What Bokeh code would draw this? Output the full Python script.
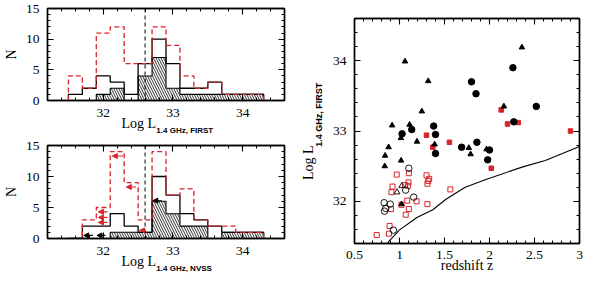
import json
from bokeh.plotting import figure
from bokeh.layouts import row, column
from bokeh.models import (Arrow, NormalHead, LinearAxis, ColumnDataSource, Span,
                          SingleIntervalTicker, FixedTicker, PrintfTickFormatter,
                          CustomJSTickFormatter)
from bokeh.embed import file_html
from bokeh.resources import INLINE

# ---------------- data ----------------
edges = [31.5, 31.7, 31.9, 32.1, 32.3, 32.5, 32.7, 32.9, 33.1, 33.3, 33.5, 33.7, 33.9, 34.1, 34.3]
red_first = [4, 2, 11, 12, 6, 6, 12, 9, 4, 2, 3, 1, 1, 1]
black_first = [1, 2, 4, 3, 1, 6, 10, 6, 2, 2, 3, 1, 1, 1]
hatch_first = [0, 0, 1, 2, 0, 4, 7, 2, 1, 1, 1, 1, 1, 1]

red_nvss = [0, 3, 5, 14, 9, 3, 14, 7, 8, 3, 2, 2, 1, 1]
black_nvss = [0, 2, 2, 4, 2, 1, 10, 7, 4, 3, 2, 1, 1, 1]
hatch_nvss = [0, 0, 0, 1, 1, 1, 6, 4, 2, 2, 0, 1, 1, 1]

split_L = 32.6

# upper-limit arrows (NVSS panel): start x, end x, level
red_arr_xs = [32.06, 32.06, 32.06, 32.29, 32.47, 32.60]
red_arr_xe = [31.93, 31.93, 31.93, 32.13, 32.33, 32.52]
red_arr_y = [4.3, 3.4, 2.6, 13.3, 8.3, 1.3]
blk_arr_xs = [31.85, 32.03, 32.84]
blk_arr_xe = [31.72, 31.91, 32.71]
blk_arr_y = [0.5, 0.5, 6.1]

# scatter: redshift z vs Log L(1.4 GHz, FIRST)
fc_z = [1.136, 1.029, 1.38, 1.40, 1.80, 1.85, 2.26, 2.52, 2.27, 1.40, 1.69, 1.86, 2.00, 1.98]
fc_L = [33.02, 32.96, 33.07, 32.95, 33.70, 33.53, 33.90, 33.35, 33.13, 32.68, 32.77, 32.84, 32.73, 32.59]

ft_z = [1.061, 1.319, 1.248, 0.918, 1.112, 2.36, 2.16, 1.015, 1.194, 1.39, 1.77, 1.79, 1.967,
        0.879, 0.84, 0.836, 1.018, 1.022]
ft_L = [33.99, 33.71, 33.28, 33.08, 33.09, 34.19, 33.35, 32.90, 32.85, 32.81, 32.76, 32.67, 32.74,
        32.77, 32.65, 32.50, 32.58, 31.96]

fs_z = [1.30, 2.13, 2.20, 2.32, 2.90, 1.37, 1.555, 2.02]
fs_L = [32.94, 33.30, 33.10, 33.12, 33.00, 32.77, 32.84, 32.47]

os_z = [0.969, 1.104, 1.10, 0.922, 0.911, 1.061, 1.093, 1.30, 1.33, 1.32, 1.31, 1.565, 1.19,
        1.086, 1.31, 0.905, 1.104, 1.069, 0.89, 0.883, 0.747, 1.022]
os_L = [32.38, 32.40, 32.27, 32.21, 32.13, 32.23, 32.22, 32.37, 32.32, 32.29, 32.25, 32.17, 32.00,
        32.01, 31.96, 31.89, 31.89, 31.81, 31.65, 31.54, 31.52, 31.95]

oc_z = [1.104, 1.069, 1.158, 0.829, 0.897, 0.847, 0.833, 0.932]
oc_L = [32.47, 32.16, 32.06, 31.98, 31.96, 31.90, 31.86, 31.59]

ot_z = [1.026, 0.972]
ot_L = [32.22, 32.13]

lim_z = [0.847, 0.997, 1.194, 1.37, 1.516, 1.73, 1.96, 2.37, 2.62, 3.0]
lim_L = [31.38, 31.59, 31.77, 31.88, 32.03, 32.20, 32.31, 32.49, 32.58, 32.78]

# text
lbl_main = "Log L"
lbl_first = "1.4 GHz, FIRST"
lbl_nvss = "1.4 GHz, NVSS"
lbl_N = "N"
lbl_z = "redshift z"

RED = "#d8232a"
SERIF = "Liberation Serif"
SANS = "Liberation Sans"
TICK_FS = "13.5px"


def step_xy(e, c):
    xs = [e[0]]
    ys = [0]
    for i, v in enumerate(c):
        xs += [e[i], e[i + 1]]
        ys += [v, v]
    xs.append(e[-1])
    ys.append(0)
    return xs, ys


def style_axes(p, xtick, ytick, fmt=None):
    bx = p.below[0]
    ly = p.left[0]
    for ax in (bx, ly):
        ax.axis_line_color = "black"
        ax.axis_line_width = 1.4
        ax.major_tick_in = 6
        ax.major_tick_out = 0
        ax.minor_tick_in = 3
        ax.minor_tick_out = 0
        ax.major_tick_line_width = 1.1
        ax.minor_tick_line_width = 1
        ax.major_label_text_font = SERIF
        ax.major_label_text_font_size = TICK_FS
        ax.major_label_text_color = "black"
        ax.axis_label_text_font = SERIF
        ax.axis_label_text_font_size = "14px"
        ax.axis_label_text_font_style = "normal"
        ax.axis_label_text_color = "black"
    bx.ticker = xtick
    ly.ticker = ytick
    bx.major_label_standoff = 8
    ly.major_label_standoff = 8
    if fmt is not None:
        bx.formatter = fmt
    for tk, side in ((xtick, "above"), (ytick, "right")):
        ax = LinearAxis(ticker=tk, major_label_text_font_size="0px", major_label_text_color=None,
                        major_label_standoff=0, major_tick_in=6, major_tick_out=0,
                        minor_tick_in=3, minor_tick_out=0, axis_line_width=1.4,
                        major_tick_line_width=1.1)
        p.add_layout(ax, side)
    p.outline_line_color = "black"
    p.outline_line_width = 1.4
    p.grid.visible = False
    return bx, ly


def label_axis(p, side, pos, text, font, size, style, standoff, orient="horizontal"):
    ax = LinearAxis(ticker=FixedTicker(ticks=[pos], minor_ticks=[]),
                    formatter=CustomJSTickFormatter(code="return %s;" % json.dumps(text)),
                    axis_line_color=None, major_tick_line_color=None, minor_tick_line_color=None,
                    major_tick_in=0, major_tick_out=0, minor_tick_in=0, minor_tick_out=0,
                    major_label_standoff=standoff, major_label_text_font=font,
                    major_label_text_font_size=size, major_label_text_font_style=style,
                    major_label_text_color="black", major_label_orientation=orient)
    p.add_layout(ax, side)


def hist_panel(red, black, hatch, sub, sub_pos, top_border, arrows=None):
    p = figure(width=296, height=138, x_range=(31.2, 34.6), y_range=(0, 15),
               output_backend="svg", toolbar_location=None,
               min_border_left=40, min_border_right=12, min_border_top=top_border,
               min_border_bottom=38)
    p.quad(left=edges[:-1], right=edges[1:], bottom=0, top=hatch, fill_alpha=0,
           line_alpha=0, hatch_pattern="\\", hatch_color="black", hatch_weight=0.8, hatch_scale=5)
    hx, hy = step_xy(edges, hatch)
    p.line(hx, hy, line_color="black", line_width=1.1)
    bx, by = step_xy(edges, black)
    p.line(bx, by, line_color="black", line_width=1.3)
    rx, ry = step_xy(edges, red)
    p.line(rx, ry, line_color=RED, line_width=1.3, line_dash="5 3")
    p.add_layout(Span(location=split_L, dimension="height", line_color="black",
                      line_dash="4 3", line_width=1))
    if arrows is not None:
        for xs_, xe_, yy, col in arrows:
            src = ColumnDataSource(dict(xs=xs_, xe=xe_, y=yy))
            p.add_layout(Arrow(end=NormalHead(size=5, fill_color=col, line_color=col, line_width=1),
                               x_start="xs", x_end="xe", y_start="y", y_end="y",
                               source=src, line_color=col, line_width=1.1))
    xa, ya = style_axes(p, SingleIntervalTicker(interval=1, num_minor_ticks=5),
                        SingleIntervalTicker(interval=5, num_minor_ticks=5))
    ya.axis_label = lbl_N
    ya.axis_label_standoff = 4
    label_axis(p, "below", 32.51, lbl_main, SERIF, "14px", "normal", -4)
    label_axis(p, "below", sub_pos, sub, SANS, "8px", "bold", -8)
    return p


p1 = hist_panel(red_first, black_first, hatch_first, lbl_first, 33.17, 8)
p2 = hist_panel(red_nvss, black_nvss, hatch_nvss, lbl_nvss, 33.16, 7,
                arrows=[(red_arr_xs, red_arr_xe, red_arr_y, RED),
                        (blk_arr_xs, blk_arr_xe, blk_arr_y, "black")])

p3 = figure(width=288, height=276, x_range=(0.5, 3.0), y_range=(31.4, 34.6),
            output_backend="svg", toolbar_location=None,
            min_border_left=58, min_border_right=5, min_border_top=18, min_border_bottom=33)
p3.line(lim_z, lim_L, line_color="black", line_width=1.1)
p3.scatter(os_z, os_L, marker="square", size=5, fill_alpha=0, line_color=RED, line_width=1)
p3.scatter(oc_z, oc_L, marker="circle", size=6.5, fill_alpha=0, line_color="black", line_width=0.9)
p3.scatter(ot_z, ot_L, marker="triangle", size=6, fill_alpha=0, line_color="black", line_width=0.9)
p3.scatter(fs_z, fs_L, marker="square", size=4.5, fill_color=RED, line_color=RED)
p3.scatter(ft_z, ft_L, marker="triangle", size=5.5, fill_color="black", line_color="black")
p3.scatter(fc_z, fc_L, marker="circle", size=6.5, fill_color="black", line_color="black")
xa3, ya3 = style_axes(p3, SingleIntervalTicker(interval=0.5, num_minor_ticks=5),
                      SingleIntervalTicker(interval=1, num_minor_ticks=5),
                      fmt=PrintfTickFormatter(format="%g"))
xa3.major_label_standoff = 7
xa3.axis_label = lbl_z
xa3.axis_label_standoff = -4
label_axis(p3, "left", 33.23, lbl_first, SANS, "9px", "bold", 6, orient="parallel")
label_axis(p3, "left", 32.55, lbl_main, SERIF, "14px", "normal", -5, orient="parallel")

layout = row(column(p1, p2), p3)
open("out.html", "w").write(file_html(layout, INLINE))
